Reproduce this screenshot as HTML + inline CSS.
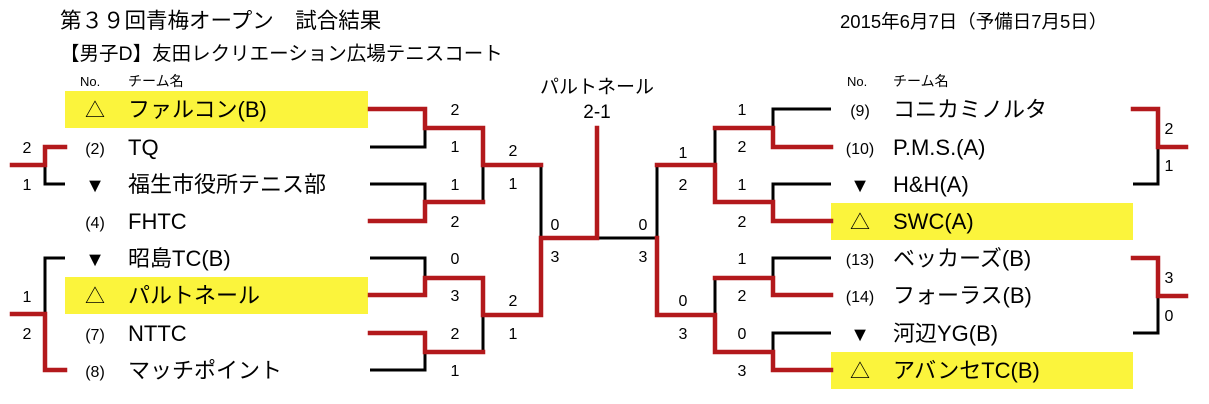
<!DOCTYPE html>
<html><head><meta charset="utf-8"><style>
html,body{margin:0;padding:0;background:#fff;}
svg{display:block;}
text{font-family:"Liberation Sans","Noto Sans CJK JP",sans-serif;fill:#000;}
.t{font-size:22px;}
.s{font-size:16px;text-anchor:middle;}
.h{font-size:13px;}
.n{font-size:16px;text-anchor:middle;}
.m{font-size:20px;text-anchor:middle;}
.r{stroke:#b3191c;stroke-width:4.5;fill:none;stroke-linecap:square;}
.k{stroke:#000;stroke-width:3;fill:none;}
</style></head><body>
<svg width="1209" height="404" viewBox="0 0 1209 404">
<rect x="65" y="91" width="303" height="37" fill="#fbf43c"/>
<rect x="65" y="277" width="303" height="37" fill="#fbf43c"/>
<rect x="831" y="203" width="302" height="37" fill="#fbf43c"/>
<rect x="831" y="352" width="302" height="37" fill="#fbf43c"/>

<text x="60" y="28" style="font-size:21.5px">第３９回青梅オープン　試合結果</text>
<text x="60" y="60" style="font-size:19.5px">【男子D】友田レクリエーション広場テニスコート</text>
<text x="840" y="28" style="font-size:18.5px">2015年6月7日（予備日7月5日）</text>
<text x="80" y="86" class="h">No.</text><text x="128" y="86" class="h" style="font-size:14px">チーム名</text>
<text x="847" y="86" class="h">No.</text><text x="893" y="86" class="h" style="font-size:14px">チーム名</text>
<text x="597" y="93" style="font-size:19px;text-anchor:middle">パルトネール</text>
<text x="597" y="118" style="font-size:19px;text-anchor:middle">2-1</text>

<!-- left teams -->
<text x="95" y="117" class="m">△</text><text x="128" y="117" class="t">ファルコン(B)</text>
<text x="95" y="154" class="n">(2)</text><text x="128" y="155" class="t">TQ</text>
<text x="95" y="192" class="m">▼</text><text x="128" y="192" class="t">福生市役所テニス部</text>
<text x="95" y="228" class="n">(4)</text><text x="128" y="229" class="t">FHTC</text>
<text x="95" y="266" class="m">▼</text><text x="128" y="266" class="t">昭島TC(B)</text>
<text x="95" y="303" class="m">△</text><text x="128" y="303" class="t">パルトネール</text>
<text x="95" y="340" class="n">(7)</text><text x="128" y="341" class="t">NTTC</text>
<text x="95" y="377" class="n">(8)</text><text x="128" y="378" class="t">マッチポイント</text>

<!-- right teams -->
<text x="860" y="116" class="n">(9)</text><text x="893" y="117" class="t">コニカミノルタ</text>
<text x="860" y="154" class="n">(10)</text><text x="893" y="155" class="t">P.M.S.(A)</text>
<text x="860" y="192" class="m">▼</text><text x="893" y="192" class="t">H&amp;H(A)</text>
<text x="860" y="229" class="m">△</text><text x="893" y="229" class="t">SWC(A)</text>
<text x="860" y="265" class="n">(13)</text><text x="893" y="266" class="t">ベッカーズ(B)</text>
<text x="860" y="302" class="n">(14)</text><text x="893" y="303" class="t">フォーラス(B)</text>
<text x="860" y="341" class="m">▼</text><text x="893" y="341" class="t">河辺YG(B)</text>
<text x="860" y="378" class="m">△</text><text x="893" y="378" class="t">アバンセTC(B)</text>

<!-- black lines -->
<path class="k" d="M370 147H425V128 M370 184H425V202 M370 258H425V278 M370 370H425V352
M483 165V202 M483 315V352 M541 165V238 M597 238H657 M657 165V238
M715 128V165 M715 278V315
M831 109H773V128 M831 184H773V202 M831 258H773V278 M831 333H773V352
M65 184H45V165 M65 258H45V314
M1133 184H1158V147 M1133 333H1158V296"/>
<!-- red lines -->
<path class="r" d="M370 109H425V128H483V165H541 M370 221H425V202H483 M370 295H425V278H483V315H541 M370 333H425V352H483
M541 315V238H597V128
M657 238V315H715V352H773V370H831 M657 165H715V202H773V221H831 M715 128H773V147H831 M715 278H773V295H831
M65 147H45V165H12 M65 370H45V314H12
M1133 109H1158V147H1186 M1133 258H1158V296H1186"/>

<g class="s">
<text x="455" y="115">2</text><text x="455" y="152">1</text>
<text x="455" y="190">1</text><text x="455" y="227">2</text>
<text x="455" y="264">0</text><text x="455" y="301">3</text>
<text x="455" y="339">2</text><text x="455" y="376">1</text>
<text x="513" y="156">2</text><text x="513" y="189">1</text>
<text x="513" y="306">2</text><text x="513" y="339">1</text>
<text x="555" y="230">0</text><text x="555" y="262">3</text>
<text x="643" y="230">0</text><text x="643" y="262">3</text>
<text x="683" y="158">1</text><text x="683" y="190">2</text>
<text x="683" y="306">0</text><text x="683" y="339">3</text>
<text x="742" y="115">1</text><text x="742" y="152">2</text>
<text x="742" y="190">1</text><text x="742" y="227">2</text>
<text x="742" y="264">1</text><text x="742" y="301">2</text>
<text x="742" y="339">0</text><text x="742" y="376">3</text>
<text x="27" y="153">2</text><text x="27" y="190">1</text>
<text x="27" y="302">1</text><text x="27" y="339">2</text>
<text x="1169" y="134">2</text><text x="1169" y="171">1</text>
<text x="1169" y="283">3</text><text x="1169" y="321">0</text>
</g>
</svg>
</body></html>
